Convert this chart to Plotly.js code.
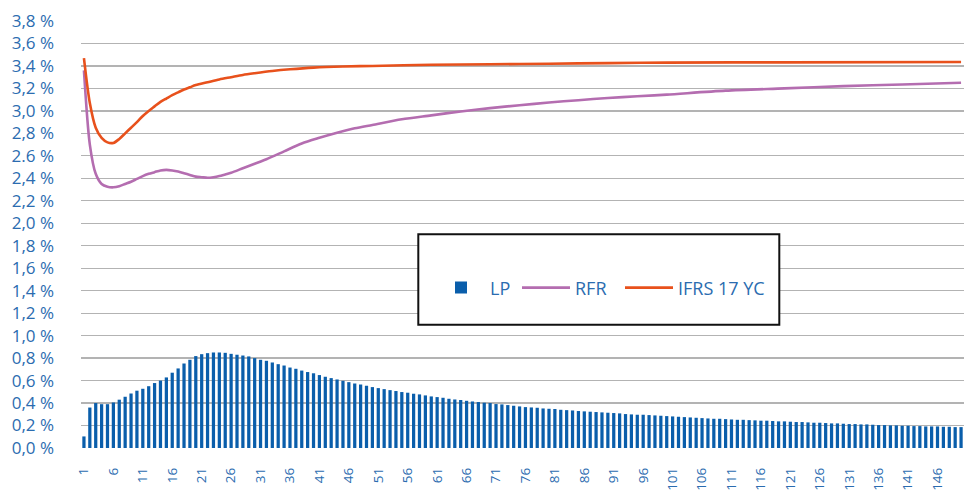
<!DOCTYPE html>
<html>
<head>
<meta charset="utf-8">
<script src="https://cdn.plot.ly/plotly-3.0.1.min.js"></script>
<style>html,body{margin:0;padding:0;background:#fff;}#chart{width:964px;height:493px;}</style>
</head>
<body>
<div id="chart"></div>
<script>
// Maturities (years) 1..150
const maturities = [];
for (let i = 1; i <= 150; i++) maturities.push(i);

// LP (liquidity premium) in % per maturity
const lpValues = [
  0.103, 0.36, 0.40, 0.39, 0.39, 0.405, 0.43, 0.456, 0.485, 0.51,
  0.527, 0.55, 0.578, 0.60, 0.628, 0.67, 0.708, 0.752, 0.785, 0.818,
  0.835, 0.844, 0.85, 0.85, 0.847, 0.838, 0.83, 0.823, 0.815, 0.80,
  0.785, 0.776, 0.761, 0.746, 0.734, 0.716, 0.705, 0.689, 0.676, 0.665,
  0.649, 0.634, 0.622, 0.61, 0.598, 0.586, 0.574, 0.565, 0.554, 0.542,
  0.533, 0.524, 0.515, 0.507, 0.498, 0.492, 0.483, 0.477, 0.468, 0.459,
  0.453, 0.447, 0.438, 0.432, 0.427, 0.42, 0.414, 0.409, 0.403, 0.40,
  0.391, 0.388, 0.382, 0.376, 0.37, 0.364, 0.361, 0.358, 0.352, 0.349,
  0.347, 0.34, 0.337, 0.334, 0.329, 0.326, 0.323, 0.32, 0.317, 0.314,
  0.311, 0.308, 0.302, 0.299, 0.296, 0.296, 0.293, 0.29, 0.287, 0.284,
  0.281, 0.278, 0.275, 0.272, 0.269, 0.266, 0.263, 0.26, 0.26, 0.257,
  0.254, 0.251, 0.251, 0.248, 0.246, 0.243, 0.243, 0.24, 0.237, 0.237,
  0.234, 0.231, 0.231, 0.228, 0.225, 0.225, 0.222, 0.219, 0.219, 0.216,
  0.213, 0.213, 0.21, 0.21, 0.207, 0.204, 0.204, 0.201, 0.201, 0.198,
  0.198, 0.195, 0.195, 0.192, 0.192, 0.192, 0.189, 0.189, 0.186, 0.186
];

// RFR curve, read at selected maturities (%)
const rfrMaturities = [1,2,3,4,5,6,7,8,9,10,11,12,13,14,15,16,17,18,19,20,21,22,23,24,25,26,28,30,32,35,38,41,44,47,50,55,60,65,70,75,80,85,90,95,100,110,120,130,140,150];
const rfrValues = [3.36,2.70,2.44,2.35,2.325,2.32,2.33,2.35,2.37,2.395,2.42,2.44,2.455,2.47,2.475,2.47,2.46,2.445,2.43,2.415,2.41,2.405,2.41,2.42,2.435,2.45,2.49,2.53,2.57,2.64,2.71,2.76,2.805,2.845,2.875,2.925,2.96,2.995,3.025,3.05,3.075,3.095,3.115,3.13,3.145,3.18,3.20,3.22,3.235,3.25];

// IFRS 17 yield curve, read at selected maturities (%)
const ifrsMaturities = [1,2,3,4,5,6,7,8,9,10,11,12,13,14,15,16,17,18,19,20,22,24,26,28,30,33,36,40,45,50,60,70,80,90,100,120,150];
const ifrsValues = [3.47,3.07,2.85,2.76,2.72,2.715,2.75,2.80,2.85,2.90,2.955,3.00,3.04,3.08,3.11,3.14,3.165,3.19,3.21,3.23,3.255,3.28,3.30,3.32,3.335,3.355,3.37,3.385,3.395,3.40,3.41,3.415,3.42,3.425,3.43,3.432,3.435];

// Axis tick labels
const xTickVals = [];
for (let i = 1; i <= 150; i += 5) xTickVals.push(i);
const xTickText = xTickVals.map(String);
const yTickVals = [0,0.2,0.4,0.6,0.8,1.0,1.2,1.4,1.6,1.8,2.0,2.2,2.4,2.6,2.8,3.0,3.2,3.4,3.6,3.8];
const yTickText = ["0,0 %","0,2 %","0,4 %","0,6 %","0,8 %","1,0 %","1,2 %","1,4 %","1,6 %","1,8 %","2,0 %","2,2 %","2,4 %","2.6 %","2,8 %","3,0 %","3,2 %","3,4 %","3,6 %","3,8 %"];

const blueText = '#2b6cb0';
const fontFam = '"Open Sans", "Noto Sans", sans-serif';

const traces = [
  {
    type: 'bar', name: 'LP', x: maturities, y: lpValues, legend: 'legend',
    marker: {color: '#0a5eab'}, hoverinfo: 'x+y'
  },
  {
    type: 'scatter', mode: 'lines', name: 'RFR', x: rfrMaturities, y: rfrValues, legend: 'legend2',
    line: {color: '#b46db0', width: 2.6, shape: 'spline', smoothing: 0.8}
  },
  {
    type: 'scatter', mode: 'lines', name: 'IFRS 17 YC', x: ifrsMaturities, y: ifrsValues, legend: 'legend3',
    line: {color: '#e8511c', width: 2.6, shape: 'spline', smoothing: 0.8}
  }
];

function legendAt(px) {
  return {
    orientation: 'h', x: (px - 81) / 883, y: 0.375, xanchor: 'left', yanchor: 'middle',
    bgcolor: 'rgba(0,0,0,0)', borderwidth: 0, itemwidth: 48,
    font: {family: fontFam, size: 18, color: blueText}
  };
}

const layout = {
  width: 964, height: 493,
  margin: {l: 81, r: 0, t: 20.7, b: 44.7, pad: 0},
  paper_bgcolor: '#ffffff', plot_bgcolor: '#ffffff',
  font: {family: fontFam, size: 17, color: blueText},
  bargap: 0.45,
  showlegend: true,
  legend: legendAt(432),
  legend2: legendAt(517),
  legend3: legendAt(620),
  shapes: [{
    type: 'rect', xref: 'paper', yref: 'paper', layer: 'above',
    x0: (418.3 - 81) / 883, x1: (779.3 - 81) / 883,
    y0: (448.3 - 325) / 427.6, y1: (448.3 - 234.3) / 427.6,
    fillcolor: '#ffffff', line: {color: '#111111', width: 2}
  }],
  xaxis: {
    range: [0.5, 150.5], tickmode: 'array', tickvals: xTickVals, ticktext: xTickText,
    tickangle: -90, showgrid: false, zeroline: false, showline: false, ticks: '',
    ticklabelstandoff: 16,
    tickfont: {family: fontFam, size: 13.5, color: blueText}
  },
  yaxis: {
    range: [0, 3.8], tickmode: 'array', tickvals: yTickVals, ticktext: yTickText,
    showgrid: true, gridcolor: '#b3b3b3', gridwidth: 1.3, zeroline: false, showline: false, ticks: '',
    ticklabelstandoff: 26,
    tickfont: {family: fontFam, size: 17, color: blueText}
  }
};

Plotly.newPlot('chart', traces, layout, {displayModeBar: false, staticPlot: true});
</script>
</body>
</html>
